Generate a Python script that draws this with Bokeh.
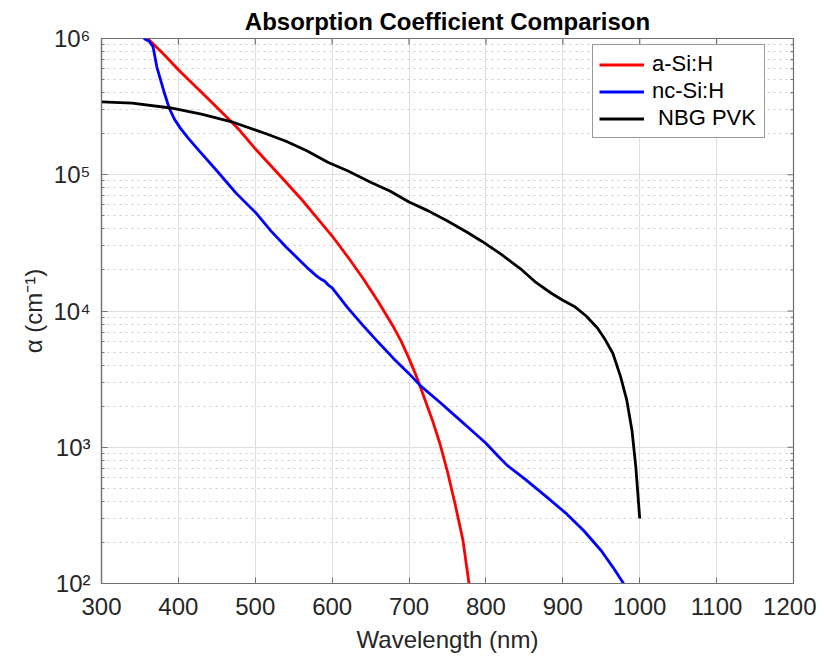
import math
from bokeh.plotting import figure
from bokeh.models import FixedTicker, Legend, LegendItem
from bokeh.embed import file_html
from bokeh.resources import INLINE

# ---- data ----
wl_asi = [360, 380, 400, 420, 440, 460, 480, 500, 520, 540, 560, 580, 600,
          620, 640, 660, 680, 690, 700, 710, 720, 730, 740, 750, 760, 765, 770, 778]
alpha_asi = [1.00e6, 7.76e5, 5.89e5, 4.57e5, 3.55e5, 2.75e5, 2.11e5, 1.55e5,
             1.17e5, 8.81e4, 6.61e4, 4.84e4, 3.55e4, 2.51e4, 1.74e4, 1.17e4,
             7590, 5960, 4470, 3270, 2290, 1600, 1070, 661, 380, 282, 209, 100]

wl_ncsi = [355, 362, 367, 372, 381, 388, 395, 403, 413, 428, 450, 475, 500, 520,
           540, 560, 570, 580, 585, 590, 595, 600, 620, 640, 660, 680, 700,
           715, 740, 760, 780, 800, 815, 828, 850, 880, 905, 927, 950, 965, 979]
alpha_ncsi = [1.0e6, 9.55e5, 8.71e5, 6.17e5, 4.12e5, 3.09e5, 2.55e5, 2.18e5,
              1.85e5, 1.48e5, 1.07e5, 7.33e4, 5.31e4, 3.89e4, 2.95e4, 2.29e4,
              2.02e4, 1.80e4, 1.72e4, 1.66e4, 1.55e4, 1.48e4, 1.06e4, 7850,
              5890, 4470, 3470, 2820, 2140, 1700, 1350, 1070, 871, 733, 589,
              427, 324, 245, 174, 132, 100]

wl_pvk = [300, 340, 390, 430, 472, 515, 540, 567, 595, 620, 650, 675, 700, 725,
          750, 775, 795, 820, 845, 865, 885, 900, 915, 930, 945, 955, 965, 975,
          983, 990, 995, 1000]
alpha_pvk = [3.43e5, 3.35e5, 3.09e5, 2.79e5, 2.42e5, 1.99e5, 1.76e5, 1.50e5,
             1.23e5, 1.07e5, 8.81e4, 7.59e4, 6.31e4, 5.43e4, 4.57e4, 3.80e4,
             3.24e4, 2.60e4, 2.04e4, 1.62e4, 1.35e4, 1.20e4, 1.08e4, 9230, 7500,
             6170, 4900, 3310, 2240, 1320, 708, 300]

x_ticks = [300, 400, 500, 600, 700, 800, 900, 1000, 1100, 1200]
y_ticks = [1e2, 1e3, 1e4, 1e5, 1e6]
y_tick_labels = ["10²", "10³", "10⁴", "10⁵", "10⁶"]
series_names = ["a-Si:H", "nc-Si:H", " NBG PVK"]
series_colors = ["#ff0000", "#0000ff", "#000000"]

FONT = "Liberation Sans"
AX = "#707070"
TXT = "#262626"
X0, X1 = 300, 1200
Y0, Y1 = 1e2, 1e6

p = figure(width=816, height=660, x_range=(X0, X1), y_range=(Y0, Y1),
           y_axis_type="log", output_backend="svg", toolbar_location=None,
           min_border_left=101, min_border_right=23, min_border_top=38,
           min_border_bottom=77, background_fill_color="white",
           border_fill_color="white")
p.outline_line_color = AX
p.outline_line_width = 1.2

p.title.text = "Absorption Coefficient Comparison"
p.title.text_font = FONT
p.title.text_font_size = "24px"
p.title.text_font_style = "bold"
p.title.text_color = "#000000"
p.title.align = "center"
p.title.standoff = 8

minor_y = [m * d for d in [1e2, 1e3, 1e4, 1e5] for m in range(2, 10)]
yt = FixedTicker(ticks=y_ticks, minor_ticks=minor_y)
xt = FixedTicker(ticks=x_ticks)

p.xaxis.ticker = xt
p.yaxis.ticker = yt
p.yaxis.major_label_overrides = {t: s for t, s in zip(y_ticks, y_tick_labels)}

for ax in [p.xaxis[0], p.yaxis[0]]:
    ax.axis_line_color = AX
    ax.axis_line_width = 1.2
    ax.major_tick_line_color = AX
    ax.minor_tick_line_color = AX
    ax.major_tick_in = 6
    ax.major_tick_out = 0
    ax.minor_tick_in = 3
    ax.minor_tick_out = 0
    ax.major_label_text_font = FONT
    ax.major_label_text_font_size = "24px"
    ax.major_label_text_color = TXT
    ax.axis_label_text_font = FONT
    ax.axis_label_text_font_size = "24px"
    ax.axis_label_text_font_style = "normal"
    ax.axis_label_text_color = TXT
p.xaxis.minor_tick_line_color = None
p.xaxis.axis_label = "Wavelength (nm)"
p.yaxis.axis_label = "α (cm⁻¹)"
p.xaxis.major_label_standoff = 14
p.xaxis.axis_label_standoff = 8
p.yaxis.major_label_standoff = 11
p.yaxis.axis_label_standoff = 3

p.xgrid.grid_line_color = "#dedede"
p.ygrid.grid_line_color = "#dedede"
p.ygrid.minor_grid_line_color = "#cccccc"
p.ygrid.minor_grid_line_dash = "2 4"

# inward ticks on the top and right edges (half of each dash is clipped)
p.scatter([X1] * len(y_ticks), y_ticks, marker="dash", size=12,
          line_color=AX, line_width=1.2)
p.scatter([X1] * len(minor_y), minor_y, marker="dash", size=6,
          line_color=AX, line_width=1.2)
p.scatter(x_ticks, [Y1] * len(x_ticks), marker="dash", size=12,
          angle=math.pi / 2, line_color=AX, line_width=1.2)

r1 = p.line(wl_asi, alpha_asi, line_color=series_colors[0], line_width=2.8)
r2 = p.line(wl_ncsi, alpha_ncsi, line_color=series_colors[1], line_width=2.8)
r3 = p.line(wl_pvk, alpha_pvk, line_color=series_colors[2], line_width=2.8)

legend = Legend(items=[LegendItem(label=series_names[0], renderers=[r1]),
                       LegendItem(label=series_names[1], renderers=[r2]),
                       LegendItem(label=series_names[2], renderers=[r3])],
                location=(491, 445))
legend.label_text_font = FONT
legend.label_text_font_size = "22px"
legend.label_text_color = "#000000"
legend.glyph_width = 45
legend.glyph_height = 25
legend.label_height = 25
legend.label_width = 106
legend.label_standoff = 8
legend.spacing = 1
legend.padding = 6
legend.margin = 0
legend.border_line_color = "#333333"
legend.border_line_width = 1
legend.background_fill_color = "white"
legend.background_fill_alpha = 1
p.add_layout(legend, "center")

open("out.html", "w").write(file_html(p, INLINE))
